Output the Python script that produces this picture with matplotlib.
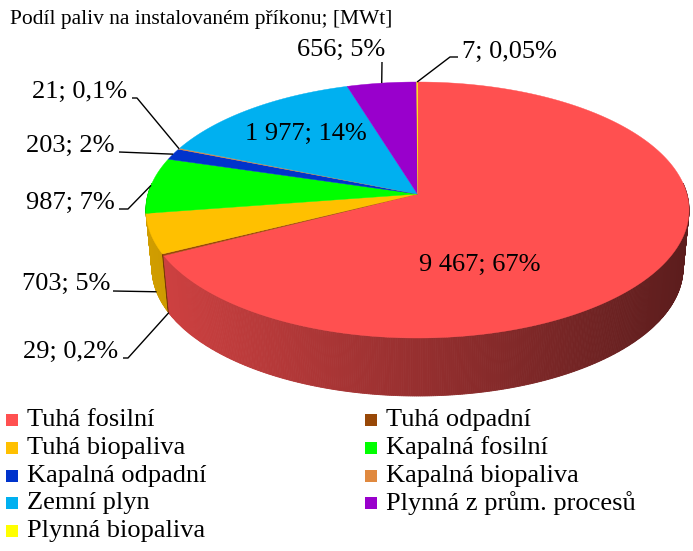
import numpy as np
import matplotlib
matplotlib.use("Agg")
import matplotlib.pyplot as plt
from matplotlib.patches import Polygon, Rectangle
from matplotlib.colors import to_rgb

plt.rcParams['font.family'] = ['Liberation Serif', 'DejaVu Serif']

title = "Podíl paliv na instalovaném příkonu; [MWt]"
categories = ["Tuhá fosilní", "Tuhá odpadní", "Tuhá biopaliva", "Kapalná fosilní",
              "Kapalná odpadní", "Kapalná biopaliva", "Zemní plyn",
              "Plynná z prům. procesů", "Plynná biopaliva"]
values = [9467, 29, 703, 987, 203, 21, 1977, 656, 7]
pct_labels = ["67%", "0,2%", "5%", "7%", "2%", "0,1%", "14%", "5%", "0,05%"]
colors = ["#FF5050", "#984807", "#FFC000", "#00FF00", "#0033CC",
          "#E0893F", "#00B0F0", "#9900CC", "#FFFF00"]

# pie geometry (pixels), perspective-ish projection of a flat disk
CX, CY = 417.5, 194.0
A, B, P = 269.4, 126.0, 0.125
H = 58.0
KB = 0.978


def proj(theta, bottom=False):
    t = np.radians(theta)
    x, d = np.sin(t), np.cos(t)
    s = 1.0 / (1.0 + P * d)
    u, v = A * x * s, B * d * s
    if bottom:
        return CX + u * KB, CY - v + H
    return CX + u, CY - v


def shade(col, xs):
    f = 0.82 - 0.46 * (xs - 146) / (689 - 146)
    f = min(max(f, 0.3), 0.9)
    return tuple(c * f for c in to_rgb(col))


fig = plt.figure(figsize=(6.93, 5.51), dpi=100)
ax = fig.add_axes([0, 0, 1, 1])
ax.set_xlim(0, 693)
ax.set_ylim(551, 0)
ax.axis("off")

total = float(sum(values))
angles = np.cumsum([0] + [v / total * 360 for v in values])

# side walls, painter's order (far first)
strips = []
for i in range(len(values)):
    a0, a1 = max(angles[i], 85), min(angles[i + 1], 275)
    if a1 <= a0:
        continue
    n = max(2, int((a1 - a0) / 0.4) + 2)
    ts = np.linspace(a0, a1, n)
    for t0, t1 in zip(ts[:-1], ts[1:]):
        p1, p2 = proj(t0), proj(t1)
        p3, p4 = proj(t1, True), proj(t0, True)
        depth = np.cos(np.radians((t0 + t1) / 2))
        c = shade(colors[i], (p1[0] + p2[0]) / 2)
        strips.append((depth, [p1, p2, p3, p4], c))
strips.sort(key=lambda s: -s[0])
for _, pts, c in strips:
    ax.add_patch(Polygon(pts, closed=True, facecolor=c, edgecolor=c, lw=0.6))

# top faces
for i in range(len(values)):
    ts = np.linspace(angles[i], angles[i + 1], max(3, int((angles[i + 1] - angles[i]) / 0.5) + 2))
    pts = [(CX, CY)] + [proj(t) for t in ts]
    ax.add_patch(Polygon(pts, closed=True, facecolor=colors[i], edgecolor=colors[i], lw=0.3))


def fmt(v):
    return f"{v:,}".replace(",", " ") + "; "


fs = 19
# inside labels
ax.text(480, 265, fmt(values[0]) + pct_labels[0], fontsize=fs, ha="center", va="center")
ax.text(367, 140, fmt(values[6]) + pct_labels[6], fontsize=fs, ha="right", va="baseline")

# outside labels: (index, text x, baseline y, ha, elbow points, leader to bottom rim)
outside = [
    (1, 118, 358, "right", [(123, 358), (128, 358)], True),
    (2, 110, 290, "right", [(113, 291)], True),
    (3, 115, 209, "right", [(119, 209), (128, 209)], False),
    (4, 115, 152, "right", [(119, 152)], False),
    (5, 127, 98, "right", [(132, 98), (137, 98)], False),
    (7, 385, 56, "right", [(382, 62)], False),
    (8, 462, 58, "left", [(458, 57), (450, 57)], False),
]
for i, tx, ty, ha, elbow, bot in outside:
    ax.text(tx, ty, fmt(values[i]) + pct_labels[i], fontsize=fs, ha=ha, va="baseline")
    mid = (angles[i] + angles[i + 1]) / 2
    pts = elbow + [proj(mid, bot)]
    ax.plot([p[0] for p in pts], [p[1] for p in pts], color="black", lw=1.0,
            solid_capstyle="butt")

ax.text(10, 24, title, fontsize=15.5, ha="left", va="baseline")

# legend, two columns
row_y = [420, 448, 476, 503, 531]
for i, name in enumerate(categories):
    r, c = i // 2, i % 2
    mx = 6 if c == 0 else 365
    ax.add_patch(Rectangle((mx, row_y[r] - 6), 12, 12, facecolor=colors[i], edgecolor="none"))
    ax.text(mx + 21, row_y[r], name, fontsize=fs, ha="left", va="center")

fig.savefig("out.png", dpi=100)
